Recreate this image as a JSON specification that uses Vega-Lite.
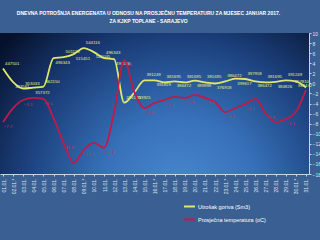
{
  "$schema": "https://vega.github.io/schema/vega-lite/v6.json",
  "autosize": "none",
  "width": 309,
  "height": 141,
  "padding": {"left": 0, "top": 33, "right": 11, "bottom": 66},
  "background": "#3a5f92",
  "config": {
    "view": {"stroke": null},
    "font": "Liberation Sans"
  },
  "title": {
    "text": ["DNEVNA POTROŠNJA ENERGENATA U ODNOSU NA PROSJEČNU TEMPERATURU ZA MJESEC JANUAR 2017.", "ZA KJKP TOPLANE  -  SARAJEVO"],
    "fontSize": 5,
    "fontWeight": "bold",
    "color": "#ffffff",
    "anchor": "middle",
    "dx": -6,
    "offset": 7,
    "lineHeight": 8
  },
  "data": {
    "values": [
      {"d": "01.01.", "fuel": 447501, "temp": -7.7},
      {"d": "02.01.*", "fuel": 383561, "temp": -4.9},
      {"d": "03.01.", "fuel": 353033, "temp": -3.3},
      {"d": "04.01.", "fuel": 357372, "temp": -2.9},
      {"d": "05.01.", "fuel": 362150, "temp": -3.1},
      {"d": "06.01.", "fuel": 496343, "temp": -6.9},
      {"d": "07.01.", "fuel": 501120, "temp": -11.8},
      {"d": "08.01.", "fuel": 515451, "temp": -15.8},
      {"d": "09.01.*", "fuel": 544116.444, "temp": -13.2},
      {"d": "10.01.", "fuel": 525005, "temp": -11.8},
      {"d": "11.01.", "fuel": 496343, "temp": -12.8},
      {"d": "12.01.", "fuel": 491566, "temp": -5.7},
      {"d": "13.01.", "fuel": 286155, "temp": 4.6},
      {"d": "14.01.", "fuel": 333925, "temp": -1.7},
      {"d": "15.01.", "fuel": 391249, "temp": -4.9},
      {"d": "16.01.*", "fuel": 391829, "temp": -3.9},
      {"d": "17.01.", "fuel": 381695, "temp": -3.3},
      {"d": "18.01.", "fuel": 386472, "temp": -2.7},
      {"d": "19.01.", "fuel": 381695, "temp": -2.9},
      {"d": "20.01.", "fuel": 389998.5, "temp": -2.3},
      {"d": "21.01.", "fuel": 381695, "temp": -2.9},
      {"d": "22.01.", "fuel": 376918, "temp": -3.7},
      {"d": "23.01.*", "fuel": 386472, "temp": -5.7},
      {"d": "24.01.", "fuel": 399617.2, "temp": -4.9},
      {"d": "25.01.", "fuel": 397958, "temp": -4.1},
      {"d": "26.01.", "fuel": 386472, "temp": -3.1},
      {"d": "27.01.", "fuel": 381695, "temp": -5.9},
      {"d": "28.01.", "fuel": 384826, "temp": -7.7},
      {"d": "29.01.", "fuel": 391249, "temp": -7.1},
      {"d": "30.01.*", "fuel": 386472, "temp": -5.7},
      {"d": "31.01.", "fuel": 357810, "temp": -1.3}
    ]
  },
  "transform": [{"window": [{"op": "row_number", "as": "i"}]}],
  "encoding": {
    "x": {
      "field": "d",
      "type": "ordinal",
      "sort": null,
      "scale": {"type": "point", "padding": 0.3},
      "axis": {
        "title": null,
        "labelAngle": -90,
        "labelFontSize": 5,
        "labelColor": "#dfe6f2",
        "domainColor": "#c8d4e8",
        "tickColor": "#c8d4e8",
        "tickSize": 2,
        "labelPadding": 2
      }
    }
  },
  "layer": [
    {
      "data": {"values": [{"a": 1}]},
      "transform": [],
      "mark": {
        "type": "rect",
        "fill": {
          "gradient": "radial",
          "x1": 0.58, "y1": 0.8, "r1": 0,
          "x2": 0.58, "y2": 0.8, "r2": 0.75,
          "stops": [
            {"offset": 0, "color": "#4b8ad2"},
            {"offset": 0.35, "color": "#3670b8"},
            {"offset": 0.7, "color": "#1a3d78"},
            {"offset": 1, "color": "#06112c"}
          ]
        }
      },
      "encoding": {"x": {"value": 0}, "x2": {"value": 309}, "y": {"value": 0}, "y2": {"value": 141}}
    },
    {
      "layer": [
        {
          "mark": {"type": "line", "strokeWidth": 1.8, "interpolate": "monotone"},
          "encoding": {
            "y": {"field": "fuel", "type": "quantitative", "scale": {"domain": [-50000, 615000], "nice": false}, "axis": null},
            "color": {
              "datum": "Utrošak goriva (Sm3)",
              "scale": {"domain": ["Utrošak goriva (Sm3)", "Prosječna temperatura (oC)"], "range": ["#dfe86c", "#c01a48"]},
              "legend": {
                "orient": "none",
                "legendX": 183,
                "legendY": 167,
                "title": null,
                "symbolType": "stroke",
                "symbolSize": 120,
                "symbolStrokeWidth": 2,
                "labelFontSize": 5.5,
                "labelColor": "#ffffff",
                "rowPadding": 2,
                "labelOffset": 2
              }
            }
          }
        },
        {
          "transform": [{"filter": "datum.i % 2 == 1 && datum.i < 31"}],
          "mark": {"type": "text", "fontSize": 4.3, "color": "#e8ef80", "align": "left", "dx": 2, "dy": -5},
          "encoding": {
            "y": {"field": "fuel", "type": "quantitative", "scale": {"domain": [-50000, 615000], "nice": false}, "axis": null},
            "text": {"field": "fuel", "type": "quantitative", "format": "d"}
          }
        },
        {
          "transform": [{"filter": "datum.i == 31"}],
          "mark": {"type": "text", "fontSize": 4.3, "color": "#e8ef80", "align": "right", "dx": 3, "dy": -6},
          "encoding": {
            "y": {"field": "fuel", "type": "quantitative", "scale": {"domain": [-50000, 615000], "nice": false}, "axis": null},
            "text": {"field": "fuel", "type": "quantitative", "format": "d"}
          }
        },
        {
          "transform": [{"filter": "datum.i % 2 == 0"}],
          "mark": {"type": "text", "fontSize": 4.3, "color": "#e8ef80", "align": "left", "dx": 2, "dy": 5},
          "encoding": {
            "y": {"field": "fuel", "type": "quantitative", "scale": {"domain": [-50000, 615000], "nice": false}, "axis": null},
            "text": {"field": "fuel", "type": "quantitative", "format": "d"}
          }
        }
      ]
    },
    {
      "layer": [
        {
          "mark": {"type": "line", "strokeWidth": 1.8, "interpolate": "monotone"},
          "encoding": {
            "y": {
              "field": "temp",
              "type": "quantitative",
              "scale": {"domain": [-18, 10], "nice": false},
              "axis": {
                "orient": "right",
                "title": null,
                "grid": false,
                "labelFontSize": 5,
                "labelColor": "#dfe6f2",
                "domainColor": "#c8d4e8",
                "tickColor": "#c8d4e8",
                "tickSize": 2,
                "tickCount": 14,
                "labelPadding": 1
              }
            },
            "color": {"datum": "Prosječna temperatura (oC)"}
          }
        },
        {
          "transform": [{"filter": "datum.i % 2 == 1 && datum.i < 31"}],
          "mark": {"type": "text", "fontSize": 4.3, "color": "#d02a58", "dx": 5, "dy": 5},
          "encoding": {
            "y": {"field": "temp", "type": "quantitative", "scale": {"domain": [-18, 10], "nice": false}},
            "text": {"field": "temp", "type": "quantitative", "format": ".1f"}
          }
        }
      ]
    }
  ],
  "resolve": {"scale": {"y": "independent"}}
}
